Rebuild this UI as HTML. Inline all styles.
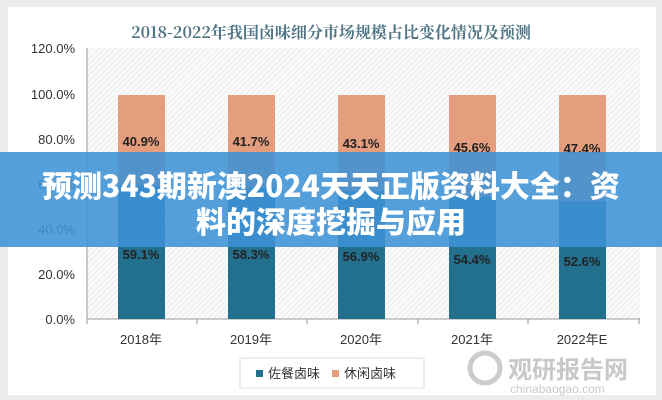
<!DOCTYPE html>
<html><head><meta charset="utf-8"><style>
body{margin:0;width:662px;height:400px;background:#ececec;overflow:hidden;font-family:"Liberation Sans","Noto Sans CJK SC",sans-serif;position:relative}
.card{position:absolute;left:8px;top:7px;width:648px;height:388px;background:#fff}
.banner{position:absolute;left:0;top:152px;width:662px;height:95px;background:rgba(62,146,214,0.88);color:#fff;font-weight:900;font-size:30px;text-align:center;line-height:36px;padding-top:14px;box-sizing:border-box;font-family:"Noto Sans CJK SC",sans-serif;white-space:nowrap}
</style></head><body>
<div class="card"></div>
<svg width="662" height="400" style="position:absolute;left:0;top:0" font-family="Liberation Sans, Noto Sans CJK SC, sans-serif">
<defs><pattern id="h" width="4" height="4" patternUnits="userSpaceOnUse" patternTransform="rotate(45)"><rect width="4" height="4" fill="#fafafa"/><line x1="0" y1="0" x2="0" y2="4" stroke="#dcdcdc" stroke-width="1"/></pattern></defs>
<text x="331" y="38" text-anchor="middle" font-size="16" font-weight="bold" fill="#4f7585" font-family="Noto Serif CJK SC, serif">2018-2022年我国卤味细分市场规模占比变化情况及预测</text>
<rect x="87" y="48" width="553" height="271" fill="url(#h)"/>
<g font-size="13" fill="#333" text-anchor="end">
<text x="75" y="53">120.0%</text><text x="75" y="99">100.0%</text><text x="75" y="144">80.0%</text><text x="75" y="189">60.0%</text><text x="75" y="234">40.0%</text><text x="75" y="279">20.0%</text><text x="75" y="324">0.0%</text>
</g>
<line x1="87" y1="48" x2="87" y2="320" stroke="#999"/>
<line x1="87" y1="319" x2="640" y2="319" stroke="#999"/>
<g stroke="#999"><line x1="87" y1="319" x2="87" y2="324"/><line x1="197" y1="319" x2="197" y2="324"/><line x1="307" y1="319" x2="307" y2="324"/><line x1="418" y1="319" x2="418" y2="324"/><line x1="528" y1="319" x2="528" y2="324"/><line x1="639" y1="319" x2="639" y2="324"/></g>
<g>
<rect x="118" y="95" width="47" height="92" fill="#e49e7e"/><rect x="118" y="186" width="47" height="133" fill="#23708e"/>
<rect x="228" y="95" width="47" height="94" fill="#e49e7e"/><rect x="228" y="188" width="47" height="131" fill="#23708e"/>
<rect x="338" y="95" width="47" height="97" fill="#e49e7e"/><rect x="338" y="191" width="47" height="128" fill="#23708e"/>
<rect x="449" y="95" width="47" height="103" fill="#e49e7e"/><rect x="449" y="197" width="47" height="122" fill="#23708e"/>
<rect x="559" y="95" width="47" height="107" fill="#e49e7e"/><rect x="559" y="201" width="47" height="118" fill="#23708e"/>
</g>
<g font-size="13" font-weight="bold" fill="#222" text-anchor="middle">
<text x="141" y="146">40.9%</text><text x="251" y="146">41.7%</text><text x="361" y="148">43.1%</text><text x="472" y="152">45.6%</text><text x="582" y="153">47.4%</text>
<text x="141" y="259">59.1%</text><text x="251" y="259">58.3%</text><text x="361" y="261">56.9%</text><text x="472" y="264">54.4%</text><text x="582" y="266">52.6%</text>
</g>
<g font-size="13" fill="#333" text-anchor="middle">
<text x="141" y="344">2018年</text><text x="251" y="344">2019年</text><text x="361" y="344">2020年</text><text x="472" y="344">2021年</text><text x="582" y="344">2022年E</text>
</g>
<rect x="240" y="358" width="184" height="30" fill="#fff" stroke="#ddd"/>
<rect x="256" y="370" width="7" height="7" fill="#23708e"/><text x="268" y="378" font-size="13" fill="#333">佐餐卤味</text>
<rect x="332" y="370" width="7" height="7" fill="#e49e7e"/><text x="344" y="378" font-size="13" fill="#333">休闲卤味</text>
<circle cx="485" cy="368" r="15" fill="none" stroke="#ccc" stroke-width="5"/>
<text x="508" y="378" font-size="24" font-weight="bold" fill="#c8c8c8">观研报告网</text>
<text x="510" y="393" font-size="12" fill="#c8c8c8">chinabaogao.com</text>
</svg>
<div class="banner">预测343期新澳2024天天正版资料大全：资<br>料的深度挖掘与应用</div>
</body></html>
